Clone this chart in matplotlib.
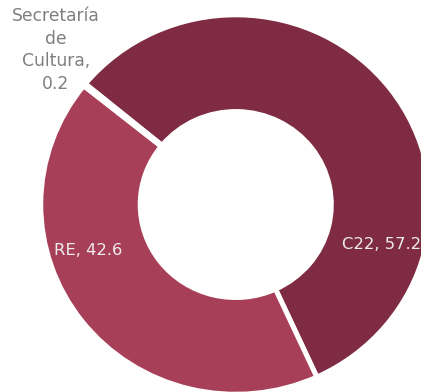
import matplotlib.pyplot as plt

labels = ['C22', 'RE', 'Secretaría\nde\nCultura,']
values = [57.2, 42.6, 0.2]
colors = ['#7E2B43', '#A83F58', '#C9A0AA']

fig = plt.figure(figsize=(4.21, 3.92), dpi=100)
ax = fig.add_axes([0, 0, 1, 1])

wedges, _ = ax.pie(values, colors=colors, startangle=140.5, counterclock=False,
                   radius=1, wedgeprops=dict(width=0.51, edgecolor='white', linewidth=3.6))

# labels
ax.text(0.748, -0.213, f'{labels[0]}, {values[0]}', ha='center', va='center',
        fontsize=11.8, color='#EDEDED')
ax.text(-0.757, -0.24, f'{labels[1]}, {values[1]}', ha='center', va='center',
        fontsize=11.8, color='#EDEDED')
ax.text(-0.922, 0.815, f'{labels[2]}\n{values[2]}', ha='center', va='center',
        fontsize=12.3, color='#7F7F7F', linespacing=1.33)

ax.set_aspect('auto')
ax.set_xlim(-1.209, 0.950)
ax.set_ylim(-0.988, 1.078)
ax.axis('off')

fig.savefig('out.png', dpi=100)
